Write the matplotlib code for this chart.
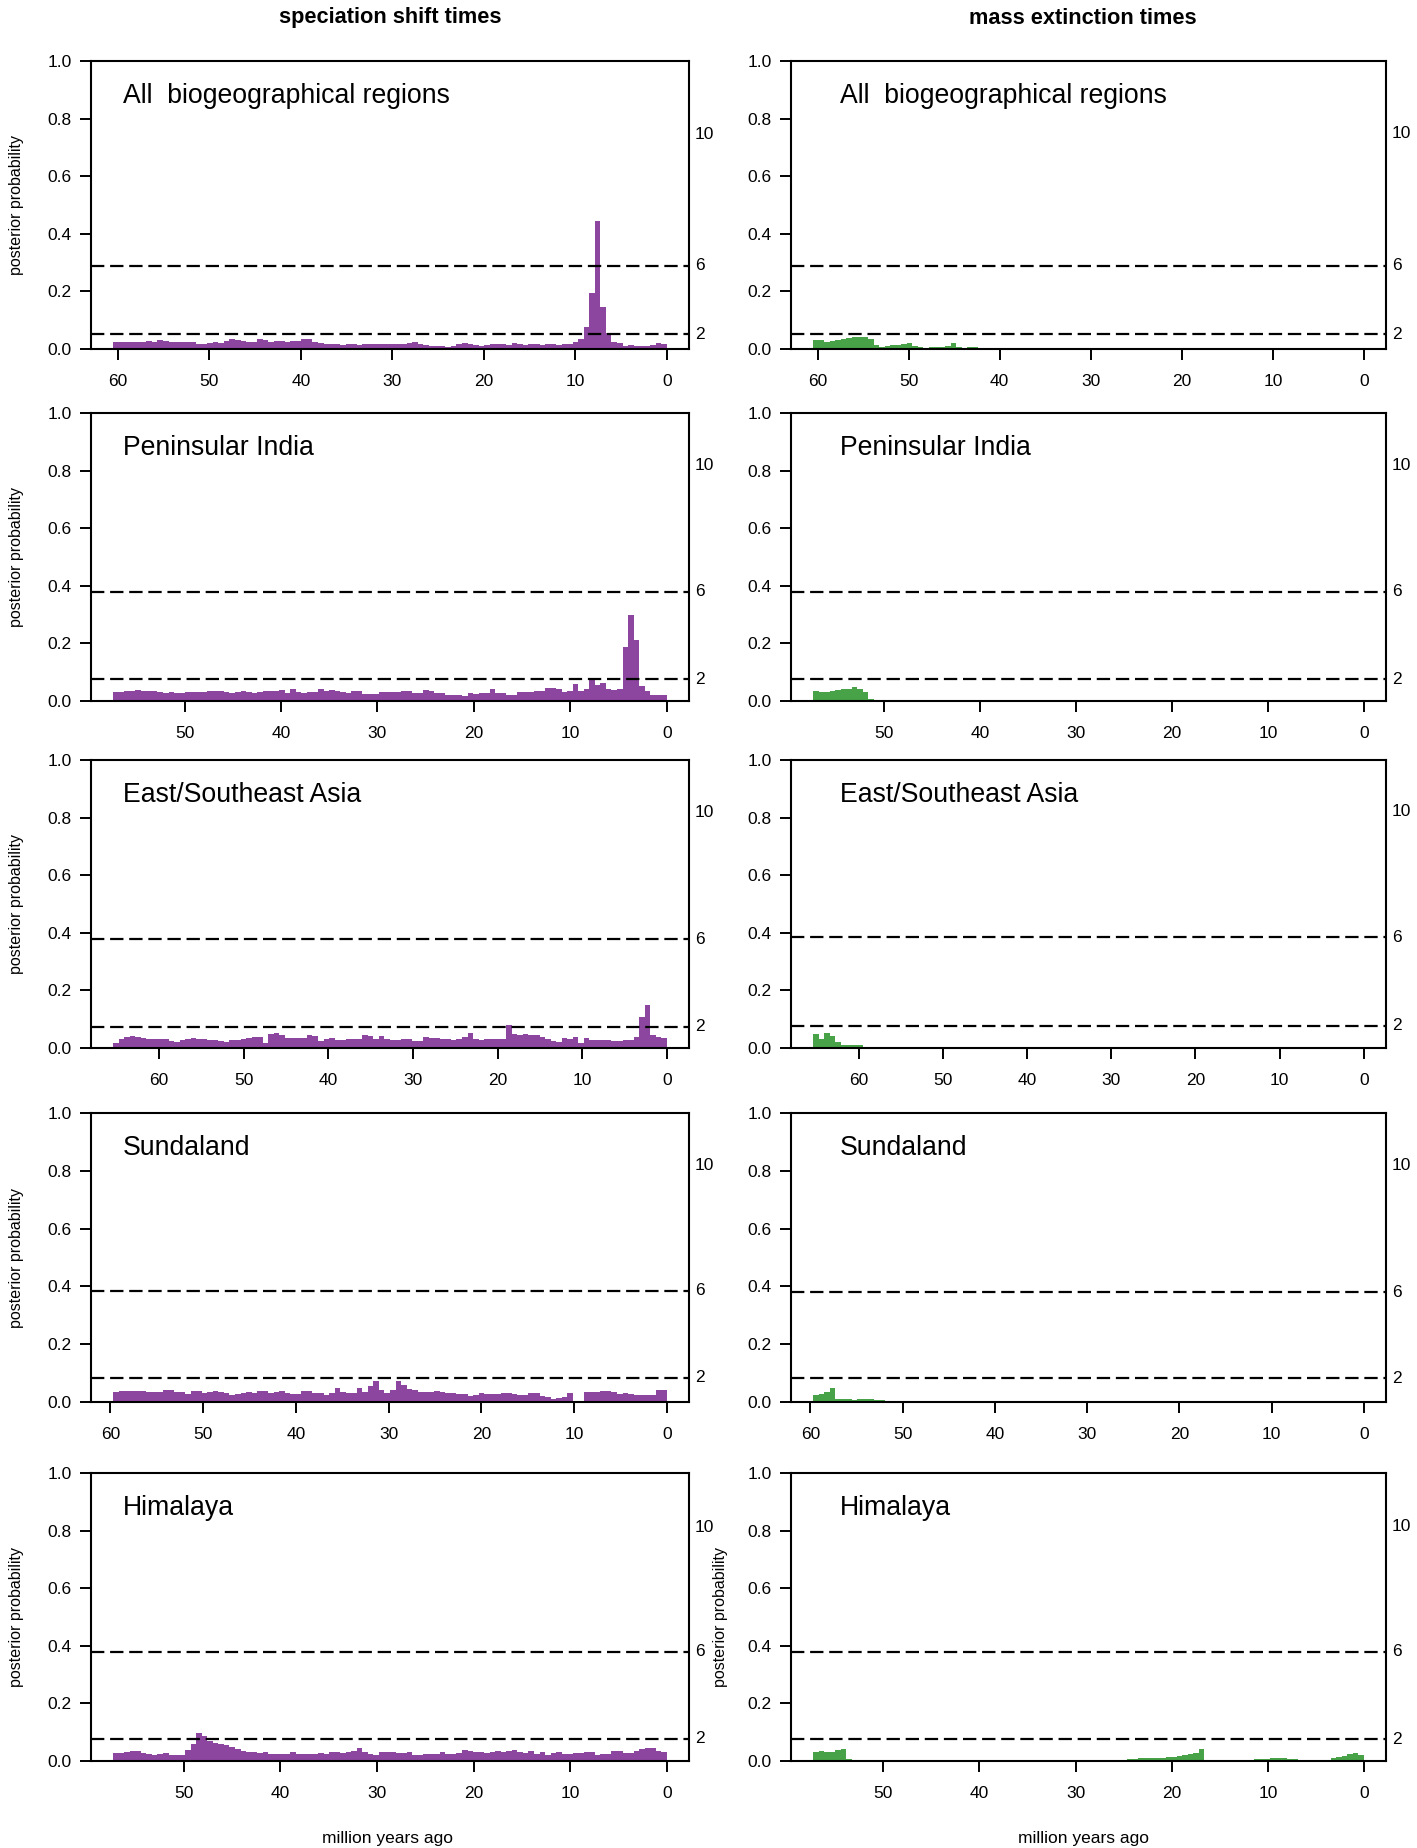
import numpy as np
import matplotlib
matplotlib.use("Agg")
import matplotlib.pyplot as plt
import matplotlib.transforms as mtransforms

plt.rcParams['font.family'] = ['Liberation Sans', 'DejaVu Sans']

# panel names and tree ages (million years) per row
regions = ["All  biogeographical regions", "Peninsular India", "East/Southeast Asia",
           "Sundaland", "Himalaya"]
tree_ages = [60.5, 57.4, 65.4, 59.7, 57.3]
xtick_rows = [[60, 50, 40, 30, 20, 10, 0],
              [50, 40, 30, 20, 10, 0],
              [60, 50, 40, 30, 20, 10, 0],
              [60, 50, 40, 30, 20, 10, 0],
              [50, 40, 30, 20, 10, 0]]

# posterior probability at 2lnBF = 2, 6, 10
bf_labels = ["2", "6", "10"]
thr_spec = [(0.052, 0.289, 0.746), (0.075, 0.379, 0.816), (0.074, 0.377, 0.816),
            (0.084, 0.385, 0.817), (0.077, 0.379, 0.810)]
thr_ext = [(0.052, 0.289, 0.748), (0.075, 0.380, 0.816), (0.078, 0.385, 0.820),
           (0.082, 0.380, 0.817), (0.076, 0.380, 0.815)]

# 100 bins per panel, listed from oldest (left) to youngest (right)
spec_all = [0.023, 0.023, 0.024, 0.026, 0.026, 0.025, 0.027, 0.024, 0.030, 0.029,
            0.024, 0.026, 0.026, 0.025, 0.024, 0.019, 0.017, 0.022, 0.025, 0.022,
            0.028, 0.035, 0.030, 0.027, 0.026, 0.026, 0.033, 0.030, 0.024, 0.028,
            0.027, 0.026, 0.027, 0.029, 0.036, 0.033, 0.026, 0.020, 0.018, 0.017,
            0.016, 0.013, 0.019, 0.017, 0.015, 0.017, 0.016, 0.018, 0.018, 0.017,
            0.016, 0.017, 0.018, 0.020, 0.026, 0.018, 0.013, 0.012, 0.010, 0.009,
            0.008, 0.012, 0.017, 0.022, 0.016, 0.013, 0.012, 0.014, 0.016, 0.018,
            0.016, 0.015, 0.022, 0.017, 0.014, 0.016, 0.018, 0.015, 0.016, 0.017,
            0.014, 0.016, 0.019, 0.024, 0.035, 0.075, 0.196, 0.443, 0.145, 0.055,
            0.025, 0.022, 0.012, 0.013, 0.010, 0.012, 0.011, 0.013, 0.020, 0.019]

spec_india = [0.032, 0.032, 0.033, 0.036, 0.037, 0.035, 0.036, 0.034, 0.030, 0.029,
              0.030, 0.028, 0.029, 0.032, 0.031, 0.032, 0.030, 0.033, 0.035, 0.034,
              0.030, 0.029, 0.032, 0.033, 0.030, 0.029, 0.031, 0.033, 0.036, 0.035,
              0.037, 0.027, 0.042, 0.030, 0.029, 0.031, 0.030, 0.043, 0.036, 0.037,
              0.034, 0.030, 0.029, 0.035, 0.034, 0.025, 0.026, 0.025, 0.030, 0.031,
              0.031, 0.030, 0.035, 0.035, 0.028, 0.029, 0.037, 0.036, 0.029, 0.028,
              0.021, 0.021, 0.020, 0.017, 0.027, 0.026, 0.027, 0.028, 0.040, 0.027,
              0.027, 0.021, 0.020, 0.030, 0.032, 0.032, 0.033, 0.036, 0.046, 0.044,
              0.043, 0.032, 0.034, 0.058, 0.036, 0.040, 0.076, 0.055, 0.061, 0.040,
              0.038, 0.040, 0.188, 0.298, 0.213, 0.052, 0.035, 0.020, 0.022, 0.020]

spec_asia = [0.018, 0.032, 0.038, 0.040, 0.039, 0.035, 0.032, 0.030, 0.031, 0.030,
             0.024, 0.021, 0.027, 0.032, 0.033, 0.032, 0.031, 0.028, 0.027, 0.025,
             0.021, 0.027, 0.028, 0.032, 0.033, 0.037, 0.037, 0.018, 0.050, 0.051,
             0.046, 0.035, 0.034, 0.035, 0.034, 0.044, 0.043, 0.023, 0.032, 0.033,
             0.029, 0.028, 0.030, 0.032, 0.032, 0.045, 0.040, 0.030, 0.042, 0.030,
             0.028, 0.029, 0.032, 0.032, 0.023, 0.024, 0.037, 0.036, 0.035, 0.032,
             0.031, 0.028, 0.030, 0.039, 0.053, 0.030, 0.028, 0.030, 0.031, 0.032,
             0.032, 0.079, 0.048, 0.045, 0.049, 0.046, 0.044, 0.037, 0.030, 0.026,
             0.021, 0.034, 0.030, 0.038, 0.017, 0.036, 0.029, 0.028, 0.028, 0.027,
             0.025, 0.023, 0.027, 0.029, 0.037, 0.109, 0.151, 0.045, 0.038, 0.036]

spec_sunda = [0.036, 0.037, 0.037, 0.038, 0.038, 0.037, 0.036, 0.035, 0.035, 0.040,
              0.040, 0.035, 0.034, 0.029, 0.039, 0.037, 0.032, 0.033, 0.038, 0.033,
              0.031, 0.025, 0.027, 0.032, 0.033, 0.032, 0.039, 0.037, 0.032, 0.033,
              0.037, 0.031, 0.028, 0.028, 0.039, 0.039, 0.030, 0.030, 0.025, 0.030,
              0.049, 0.034, 0.032, 0.031, 0.049, 0.035, 0.055, 0.072, 0.040, 0.032,
              0.040, 0.074, 0.060, 0.046, 0.040, 0.035, 0.035, 0.034, 0.037, 0.036,
              0.032, 0.031, 0.028, 0.027, 0.021, 0.024, 0.032, 0.028, 0.028, 0.029,
              0.030, 0.030, 0.027, 0.025, 0.025, 0.030, 0.032, 0.021, 0.016, 0.012,
              0.013, 0.017, 0.032, 0.005, 0.004, 0.033, 0.035, 0.036, 0.039, 0.039,
              0.036, 0.028, 0.030, 0.029, 0.023, 0.023, 0.025, 0.024, 0.040, 0.041]

spec_himal = [0.027, 0.028, 0.031, 0.036, 0.035, 0.028, 0.024, 0.021, 0.024, 0.027,
              0.021, 0.020, 0.022, 0.038, 0.059, 0.096, 0.086, 0.070, 0.064, 0.060,
              0.055, 0.050, 0.042, 0.035, 0.032, 0.030, 0.027, 0.032, 0.026, 0.024,
              0.023, 0.026, 0.031, 0.025, 0.024, 0.023, 0.026, 0.027, 0.026, 0.032,
              0.031, 0.029, 0.031, 0.036, 0.044, 0.030, 0.026, 0.021, 0.032, 0.032,
              0.031, 0.029, 0.029, 0.031, 0.022, 0.021, 0.024, 0.024, 0.026, 0.032,
              0.025, 0.024, 0.029, 0.038, 0.034, 0.032, 0.031, 0.029, 0.030, 0.036,
              0.032, 0.033, 0.038, 0.030, 0.029, 0.035, 0.024, 0.030, 0.021, 0.028,
              0.032, 0.024, 0.026, 0.028, 0.028, 0.031, 0.030, 0.021, 0.024, 0.026,
              0.033, 0.034, 0.027, 0.029, 0.033, 0.040, 0.046, 0.045, 0.034, 0.030]

ext_all = [0.031, 0.030, 0.025, 0.027, 0.031, 0.034, 0.037, 0.040, 0.042, 0.043,
           0.036, 0.015, 0.008, 0.010, 0.013, 0.013, 0.016, 0.020, 0.010, 0.006,
           0.003, 0.007, 0.008, 0.008, 0.012, 0.020, 0.008, 0.003, 0.006, 0.006,
           0.004, 0.003, 0.003, 0.004, 0.003, 0.001, 0.001, 0.001, 0.0, 0.0,
           0.0, 0.0, 0.0, 0.0, 0.0, 0.0, 0.0, 0.0, 0.0, 0.0,
           0.0, 0.0, 0.0, 0.0, 0.0, 0.0, 0.0, 0.0, 0.0, 0.0,
           0.0, 0.0, 0.0, 0.0, 0.0, 0.0, 0.0, 0.0, 0.0, 0.0,
           0.0, 0.0, 0.0, 0.0, 0.0, 0.0, 0.0, 0.0, 0.0, 0.0,
           0.0, 0.0, 0.0, 0.0, 0.0, 0.0, 0.0, 0.0, 0.0, 0.0,
           0.0, 0.0, 0.0, 0.0, 0.0, 0.0, 0.0, 0.0, 0.0, 0.0]

ext_india = [0.035, 0.030, 0.032, 0.035, 0.037, 0.040, 0.040, 0.050, 0.043, 0.030,
             0.006, 0.003, 0.002, 0.002, 0.002, 0.001, 0.002, 0.001, 0.0, 0.0,
             0.0, 0.0, 0.0, 0.0, 0.0, 0.0, 0.0, 0.0, 0.0, 0.0,
             0.0, 0.0, 0.0, 0.0, 0.0, 0.0, 0.0, 0.0, 0.0, 0.0,
             0.0, 0.0, 0.0, 0.0, 0.0, 0.0, 0.0, 0.0, 0.0, 0.0,
             0.0, 0.0, 0.0, 0.0, 0.0, 0.0, 0.0, 0.0, 0.0, 0.0,
             0.0, 0.0, 0.0, 0.0, 0.0, 0.0, 0.0, 0.0, 0.0, 0.0,
             0.0, 0.0, 0.0, 0.0, 0.0, 0.0, 0.0, 0.0, 0.0, 0.0,
             0.0, 0.0, 0.0, 0.0, 0.0, 0.0, 0.0, 0.0, 0.0, 0.0,
             0.0, 0.0, 0.0, 0.0, 0.0, 0.0, 0.0, 0.0, 0.0, 0.0]

ext_asia = [0.048, 0.030, 0.052, 0.040, 0.022, 0.011, 0.010, 0.010, 0.009, 0.004,
            0.003, 0.003, 0.004, 0.005, 0.005, 0.004, 0.004, 0.002, 0.0, 0.0,
            0.0, 0.0, 0.0, 0.0, 0.0, 0.0, 0.0, 0.0, 0.0, 0.0,
            0.0, 0.0, 0.0, 0.0, 0.0, 0.0, 0.0, 0.0, 0.0, 0.0,
            0.0, 0.0, 0.0, 0.0, 0.0, 0.0, 0.0, 0.0, 0.0, 0.0,
            0.0, 0.0, 0.0, 0.0, 0.0, 0.0, 0.0, 0.0, 0.0, 0.0,
            0.0, 0.0, 0.0, 0.0, 0.0, 0.0, 0.0, 0.0, 0.0, 0.0,
            0.0, 0.0, 0.0, 0.0, 0.0, 0.0, 0.0, 0.0, 0.0, 0.0,
            0.0, 0.0, 0.0, 0.0, 0.0, 0.0, 0.0, 0.0, 0.0, 0.0,
            0.0, 0.0, 0.0, 0.0, 0.0, 0.0, 0.0, 0.0, 0.0, 0.0]

ext_sunda = [0.025, 0.028, 0.035, 0.050, 0.012, 0.010, 0.010, 0.008, 0.010, 0.012,
             0.010, 0.008, 0.006, 0.004, 0.003, 0.002, 0.002, 0.002, 0.002, 0.002,
             0.002, 0.002, 0.002, 0.002, 0.002, 0.002, 0.002, 0.002, 0.002, 0.002,
             0.0, 0.0, 0.0, 0.0, 0.0, 0.0, 0.0, 0.0, 0.0, 0.0,
             0.0, 0.0, 0.0, 0.0, 0.0, 0.0, 0.0, 0.0, 0.0, 0.0,
             0.0, 0.0, 0.0, 0.0, 0.0, 0.0, 0.0, 0.0, 0.0, 0.0,
             0.0, 0.0, 0.0, 0.0, 0.0, 0.0, 0.0, 0.0, 0.0, 0.0,
             0.0, 0.0, 0.0, 0.0, 0.0, 0.0, 0.0, 0.0, 0.0, 0.0,
             0.0, 0.0, 0.0, 0.0, 0.0, 0.0, 0.0, 0.0, 0.0, 0.0,
             0.0, 0.0, 0.0, 0.0, 0.0, 0.0, 0.0, 0.0, 0.0, 0.0]

ext_himal = [0.032, 0.036, 0.030, 0.032, 0.037, 0.040, 0.006, 0.004, 0.003, 0.003,
             0.0, 0.0, 0.0, 0.0, 0.0, 0.0, 0.0, 0.0, 0.0, 0.0,
             0.0, 0.0, 0.0, 0.0, 0.0, 0.0, 0.0, 0.0, 0.0, 0.0,
             0.002, 0.002, 0.002, 0.002, 0.002, 0.002, 0.0, 0.0, 0.0, 0.0,
             0.0, 0.0, 0.0, 0.0, 0.0, 0.0, 0.0, 0.0, 0.0, 0.0,
             0.0, 0.0, 0.0, 0.0, 0.0, 0.003, 0.005, 0.006, 0.008, 0.011,
             0.012, 0.010, 0.009, 0.012, 0.014, 0.015, 0.017, 0.020, 0.023, 0.028,
             0.040, 0.005, 0.002, 0.002, 0.002, 0.002, 0.002, 0.002, 0.002, 0.002,
             0.006, 0.007, 0.008, 0.010, 0.010, 0.009, 0.008, 0.006, 0.004, 0.003,
             0.003, 0.003, 0.003, 0.003, 0.009, 0.014, 0.018, 0.025, 0.027, 0.022]

spec_rows = [spec_all, spec_india, spec_asia, spec_sunda, spec_himal]
ext_rows = [ext_all, ext_india, ext_asia, ext_sunda, ext_himal]

PURPLE = "#8C469F"
GREEN = "#48A348"

W, H = 1417, 1848
fig = plt.figure(figsize=(W / 100, H / 100), dpi=100)

# axes boxes in pixels
col_x = [(91.0, 689.0), (791.0, 1386.0)]
row_y = [(61, 349), (413, 701), (760, 1048), (1113, 1402), (1473, 1761)]
label_dx = [32.0, 49.0]


def draw_panel(ax, values, age, ticks, thr, color, label, dx_px, width_px):
    vals = np.array(values)
    edges = np.linspace(0, age, len(vals) + 1)
    ax.stairs(vals[::-1], edges, fill=True, color=color, lw=0)
    pad = 0.04 * age
    ax.set_xlim(age + pad, -pad)
    ax.set_ylim(0, 1)
    for t in thr[:2]:
        ax.axhline(t, color="black", lw=1.6, dashes=(6.0, 2.6))
    trans = mtransforms.blended_transform_factory(ax.transAxes, ax.transData)
    for t, lab in zip(thr, bf_labels):
        ax.text(1.0 + 6.0 / width_px, t, lab, transform=trans, ha="left",
                va="center", fontsize=12.5)
    ax.set_xticks(ticks)
    ax.set_yticks([0, 0.2, 0.4, 0.6, 0.8, 1.0])
    ax.set_yticklabels(["0.0", "0.2", "0.4", "0.6", "0.8", "1.0"])
    ax.tick_params(direction="out", length=8, width=1.4, labelsize=12.5)
    ax.tick_params(axis="y", pad=6)
    ax.tick_params(axis="x", pad=10)
    for s in ax.spines.values():
        s.set_linewidth(1.5)
    ax.text(dx_px / width_px, 1 - 35.0 / 288, label, transform=ax.transAxes,
            fontsize=19.2, ha="left", va="center")


for r in range(5):
    y0, y1 = row_y[r]
    for c in range(2):
        x0, x1 = col_x[c]
        ax = fig.add_axes([x0 / W, 1 - y1 / H, (x1 - x0) / W, (y1 - y0) / H])
        if c == 0:
            draw_panel(ax, spec_rows[r], tree_ages[r], xtick_rows[r], thr_spec[r],
                       PURPLE, regions[r], label_dx[c], x1 - x0)
        else:
            draw_panel(ax, ext_rows[r], tree_ages[r], xtick_rows[r], thr_ext[r],
                       GREEN, regions[r], label_dx[c], x1 - x0)
    cy = 1 - (y0 + y1) / 2 / H
    fig.text(17 / W, cy, "posterior probability", rotation=90, ha="center",
             va="center", fontsize=11.5)

# only the last extinction panel carries its own y label
cy = 1 - (row_y[4][0] + row_y[4][1]) / 2 / H
fig.text(721 / W, cy, "posterior probability", rotation=90, ha="center",
         va="center", fontsize=11.5)

fig.text(390 / W, 1 - 18 / H, "speciation shift times", ha="center", va="center",
         fontsize=15.7, fontweight="bold")
fig.text(1083 / W, 1 - 18 / H, "mass extinction times", ha="center", va="center",
         fontsize=15.7, fontweight="bold")
fig.text(388 / W, 1 - 1838 / H, "million years ago", ha="center", va="center",
         fontsize=12.5)
fig.text(1084 / W, 1 - 1838 / H, "million years ago", ha="center", va="center",
         fontsize=12.5)

fig.savefig("out.png", dpi=100)
